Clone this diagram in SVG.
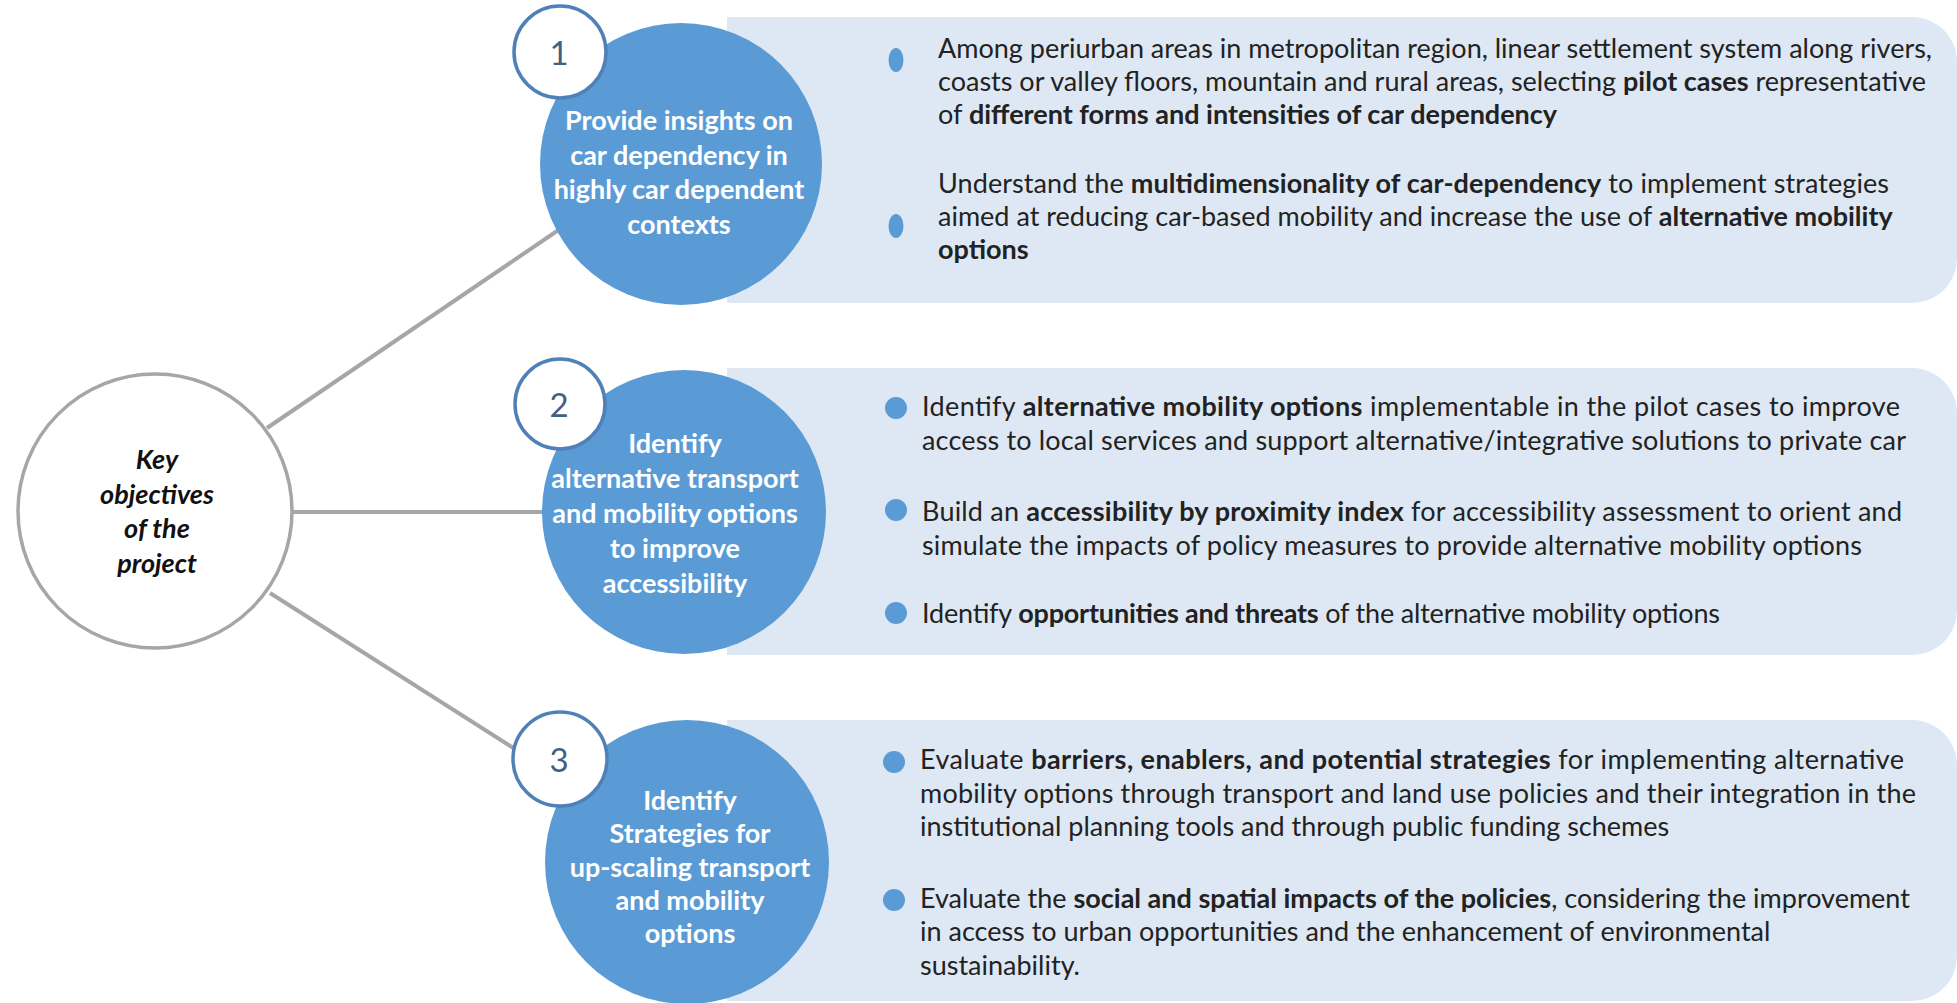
<svg xmlns="http://www.w3.org/2000/svg" width="1957" height="1003" viewBox="0 0 1957 1003">
<style>
.pt{font-family:Lato,"Liberation Sans",sans-serif;font-size:27px;fill:#222}
.b{font-weight:700}
.ct{font-family:Lato,"Liberation Sans",sans-serif;font-weight:700;font-size:27px;fill:#fff;text-anchor:middle}
.num{font-family:Lato,"Liberation Sans",sans-serif;font-size:33px;fill:#44607f;text-anchor:middle}
.key{font-family:Lato,"Liberation Sans",sans-serif;font-weight:700;font-style:italic;font-size:27px;fill:#111;text-anchor:middle}
.panel{fill:#dee8f4}
.big{fill:#5b9bd5}
.small{fill:#fff;stroke:#4f80b8;stroke-width:3.5}
.dot{fill:#5b9bd5}
.conn{stroke:#a6a6a6;stroke-width:4;fill:none}
</style>
<rect width="1957" height="1003" fill="#fff"/>
<g id="connectors">
<line class="conn" x1="267" y1="428" x2="560" y2="229"/>
<line class="conn" x1="292" y1="512" x2="550" y2="512"/>
<line class="conn" x1="270" y1="593" x2="515" y2="749"/>
</g>
<g id="key-objectives">
<circle cx="155" cy="511" r="137" fill="#fff" stroke="#a6a6a6" stroke-width="3.5"/>
<text class="key" x="157" y="469">Key</text>
<text class="key" x="157" y="504">objectives</text>
<text class="key" x="157" y="538">of the</text>
<text class="key" x="157" y="573">project</text>
</g>
<g id="objective-1">
<path class="panel" d="M727 17 H1912 A45 45 0 0 1 1957 62 V258 A45 45 0 0 1 1912 303 H727 Z"/>
<ellipse class="dot" cx="896" cy="60" rx="7.5" ry="12"/>
<ellipse class="dot" cx="896" cy="226" rx="7.5" ry="12"/>
<text class="pt" x="938" y="58">Among periurban areas in metropolitan region, linear settlement system along rivers,</text>
<text class="pt" x="938" y="91">coasts or valley floors, mountain and rural areas, selecting <tspan class="b">pilot cases</tspan> representative</text>
<text class="pt" x="938" y="124">of <tspan class="b">different forms and intensities of car dependency</tspan></text>
<text class="pt" x="938" y="193" textLength="951">Understand the <tspan class="b">multidimensionality of car-dependency</tspan> to implement strategies</text>
<text class="pt" x="938" y="226">aimed at reducing car-based mobility and increase the use of <tspan class="b">alternative mobility</tspan></text>
<text class="pt" x="938" y="259"><tspan class="b">options</tspan></text>
<circle class="big" cx="681" cy="164" r="141"/>
<text class="ct" x="679" y="130">Provide insights on</text>
<text class="ct" x="679" y="165">car dependency in</text>
<text class="ct" x="679" y="199">highly car dependent</text>
<text class="ct" x="679" y="234">contexts</text>
<circle class="small" cx="560" cy="52" r="46"/>
<text class="num" x="559" y="65">1</text>
</g>
<g id="objective-2">
<path class="panel" d="M727 368 H1912 A45 45 0 0 1 1957 413 V610 A45 45 0 0 1 1912 655 H727 Z"/>
<circle class="dot" cx="896" cy="408" r="11"/>
<circle class="dot" cx="896" cy="510" r="11"/>
<circle class="dot" cx="896" cy="613" r="11"/>
<text class="pt" x="922" y="416" textLength="978">Identify <tspan class="b">alternative mobility options</tspan> implementable in the pilot cases to improve</text>
<text class="pt" x="922" y="450" textLength="984">access to local services and support alternative/integrative solutions to private car</text>
<text class="pt" x="922" y="521" textLength="980">Build an <tspan class="b">accessibility by proximity index</tspan> for accessibility assessment to orient and</text>
<text class="pt" x="922" y="555" textLength="940">simulate the impacts of policy measures to provide alternative mobility options</text>
<text class="pt" x="922" y="623" textLength="798">Identify <tspan class="b">opportunities and threats</tspan> of the alternative mobility options</text>
<circle class="big" cx="684" cy="512" r="142"/>
<text class="ct" x="675" y="453">Identify</text>
<text class="ct" x="675" y="488">alternative transport</text>
<text class="ct" x="675" y="523">and mobility options</text>
<text class="ct" x="675" y="558">to improve</text>
<text class="ct" x="675" y="593">accessibility</text>
<circle class="small" cx="560" cy="404" r="45"/>
<text class="num" x="559" y="417">2</text>
</g>
<g id="objective-3">
<path class="panel" d="M727 720 H1912 A45 45 0 0 1 1957 765 V956 A45 45 0 0 1 1912 1001 H727 Z"/>
<circle class="dot" cx="894" cy="762" r="11"/>
<circle class="dot" cx="894" cy="900" r="11"/>
<text class="pt" x="920" y="769" textLength="984">Evaluate <tspan class="b">barriers, enablers, and potential strategies</tspan> for implementing alternative</text>
<text class="pt" x="920" y="803" textLength="996">mobility options through transport and land use policies and their integration in the</text>
<text class="pt" x="920" y="836">institutional planning tools and through public funding schemes</text>
<text class="pt" x="920" y="908">Evaluate the <tspan class="b">social and spatial impacts of the policies</tspan>, considering the improvement</text>
<text class="pt" x="920" y="941">in access to urban opportunities and the enhancement of environmental</text>
<text class="pt" x="920" y="975">sustainability.</text>
<circle class="big" cx="687" cy="862" r="142"/>
<text class="ct" x="690" y="810">Identify</text>
<text class="ct" x="690" y="843">Strategies for</text>
<text class="ct" x="690" y="877">up-scaling transport</text>
<text class="ct" x="690" y="910">and mobility</text>
<text class="ct" x="690" y="943">options</text>
<circle class="small" cx="560" cy="759" r="47"/>
<text class="num" x="559" y="772">3</text>
</g>
</svg>
